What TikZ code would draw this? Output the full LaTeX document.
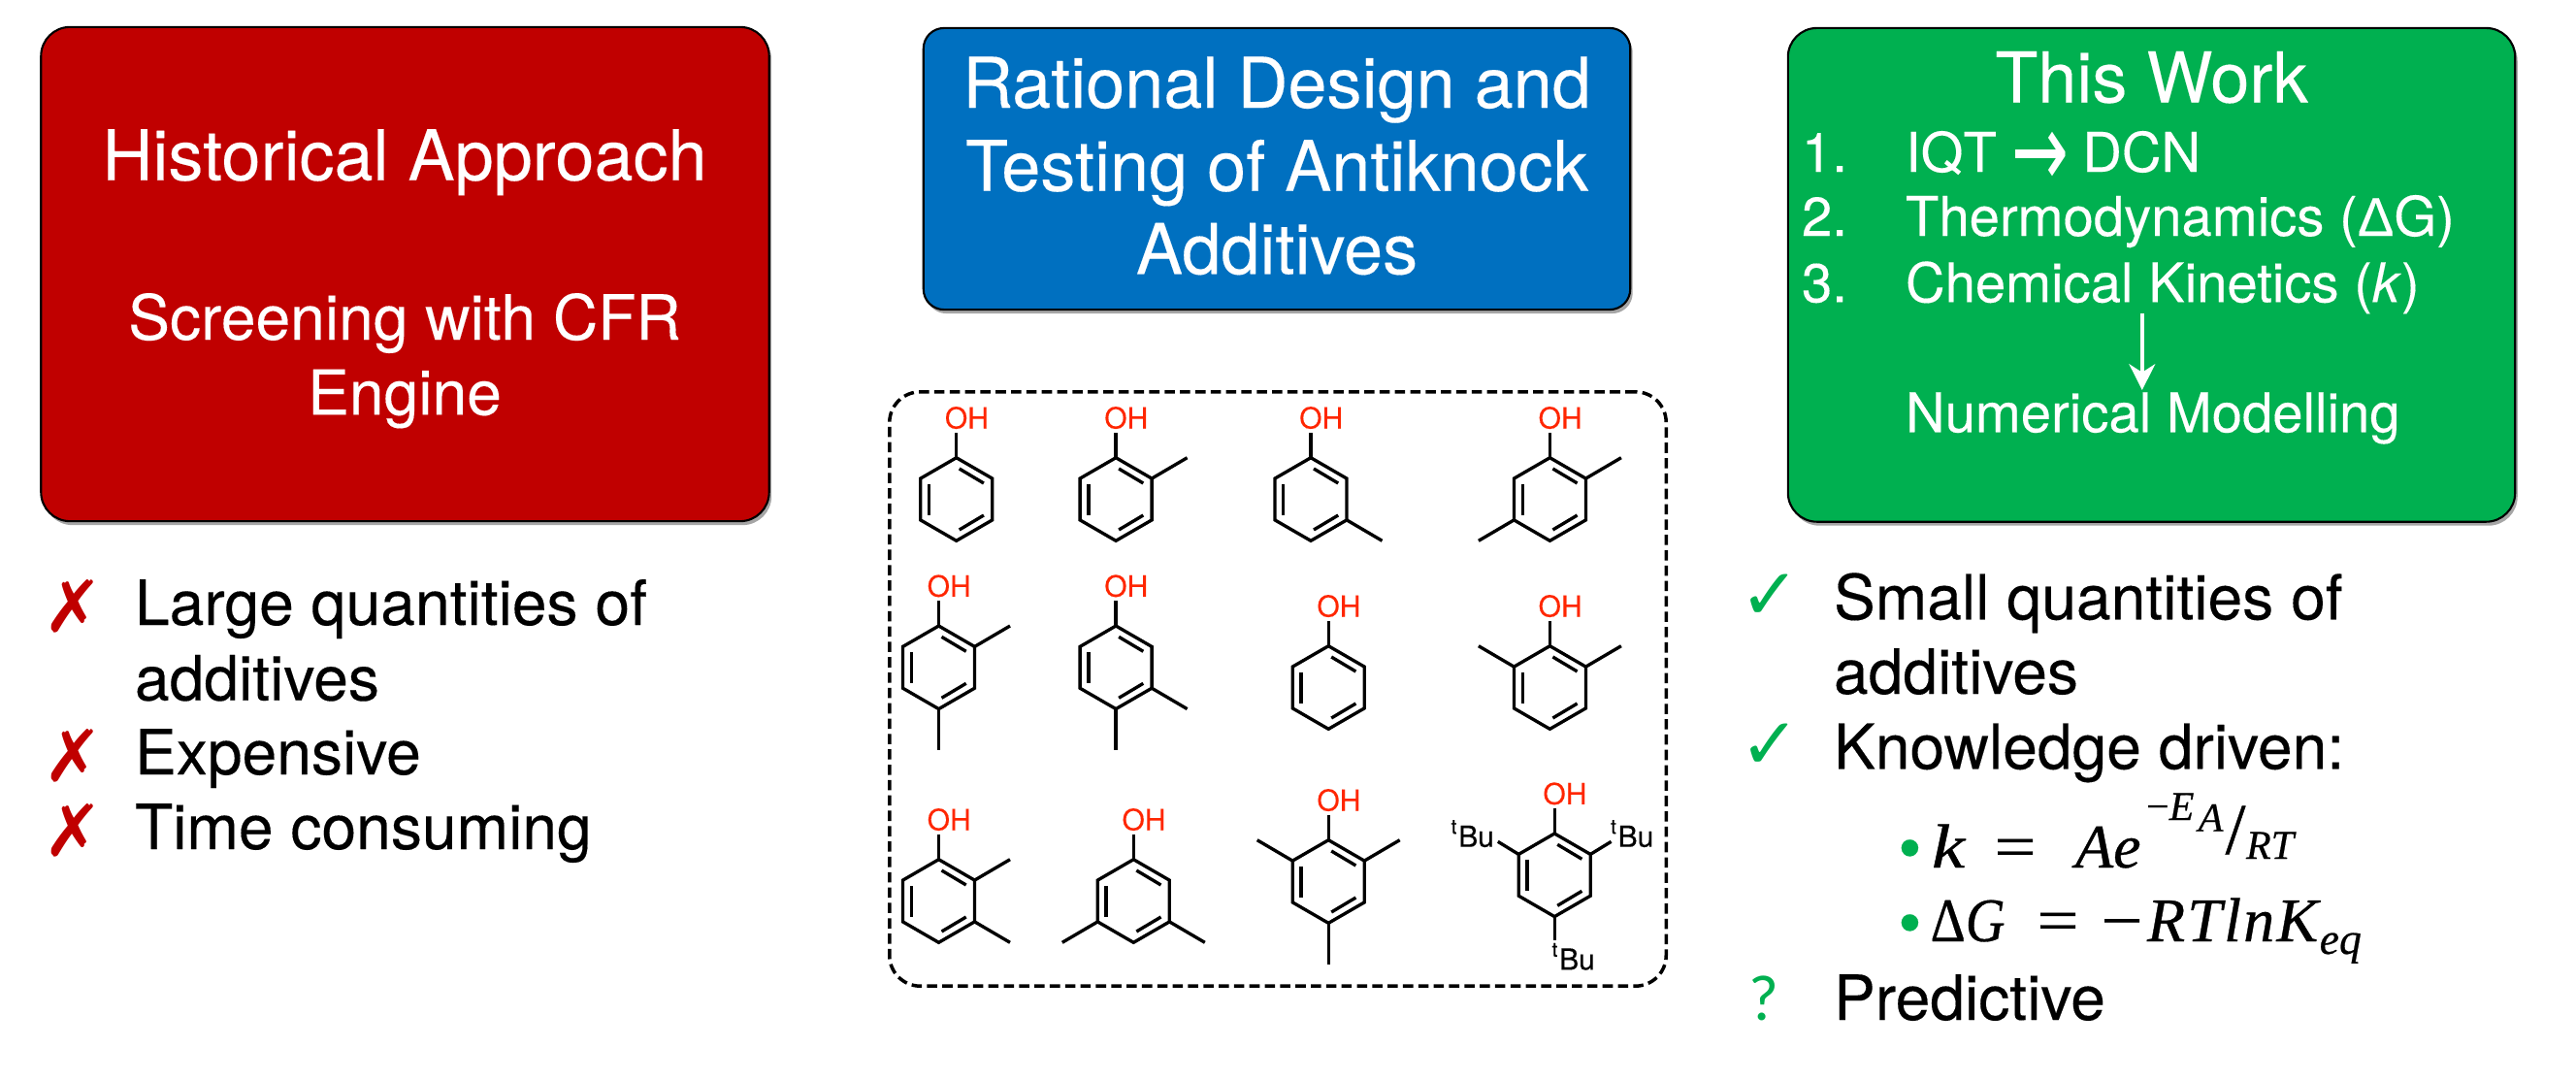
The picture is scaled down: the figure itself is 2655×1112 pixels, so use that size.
\documentclass[tikz,border=0pt]{standalone}
\usepackage{fontspec}
\usepackage{graphicx}
\usetikzlibrary{arrows.meta,shadows}
\setmainfont[FakeBold=0.2]{TeX Gyre Heros}
\newfontfamily\libs[FakeBold=0.2]{Liberation Sans}
\newfontfamily\dejav{DejaVu Sans}
\newfontfamily\carl{Carlito}
\newfontfamily\eqf[FakeBold=0.5]{Liberation Serif}
\newfontfamily\eqfls[LetterSpace=3.5,FakeBold=0.5]{Liberation Serif}
\newcommand{\fsz}[1]{\fontsize{#1}{#1}\selectfont}
\definecolor{cred}{HTML}{C00000}
\definecolor{cgreen}{HTML}{00B050}
\definecolor{cblue}{HTML}{0070C0}
\definecolor{chemred}{HTML}{FF2600}
\tikzset{
  box/.style={draw=black,line width=0.6pt,rounded corners=8.5pt,inner sep=0pt,
    drop shadow={shadow xshift=0.025cm,shadow yshift=-0.04cm,opacity=0.35,fill=black}},
  txt/.style={inner sep=0pt,outer sep=0pt,anchor=base west},
  ctr/.style={inner sep=0pt,outer sep=0pt,anchor=base},
  head/.style={ctr,text=white,font=\fsz{20.49pt}},
  sub/.style={ctr,text=white,font=\fsz{18.25pt}},
  item/.style={txt,text=white,font=\fsz{16.0pt}},
  body/.style={txt,text=black,font=\fsz{18.25pt}},
  bond/.style={line width=0.95pt,line join=miter,draw=black},
  oh/.style={txt,anchor=base,text=chemred,font=\fsz{8.54pt}},
  tbu/.style={txt,text=black,font=\fsz{8.54pt}},
  cross/.style={inner sep=0pt,outer sep=0pt,anchor=center,text=cred,font=\dejav\fsz{21pt}},
  tick/.style={inner sep=0pt,outer sep=0pt,anchor=center,text=cgreen,font=\dejav\fsz{21pt}},
  eqn/.style={txt,text=black,font=\eqf\fsz{18.2pt}},
  eqs/.style={txt,text=black,font=\eqf\fsz{11.95pt}},
}
% a benzene ring with its outer tips, as named coordinates
\newcommand{\Ring}[3]{%
  \begin{scope}[shift={(#2,#3)}]
    \coordinate (#1-v1) at (0,-42.8);
    \coordinate (#1-v2) at (37,-21.4);
    \coordinate (#1-v3) at (37,21.4);
    \coordinate (#1-v4) at (0,42.8);
    \coordinate (#1-v5) at (-37,21.4);
    \coordinate (#1-v6) at (-37,-21.4);
    \coordinate (#1-e2) at (73.5,-42.8);
    \coordinate (#1-e3) at (73.5,42.8);
    \coordinate (#1-e4) at (0,85.4);
    \coordinate (#1-e5) at (-73.5,42.8);
    \coordinate (#1-e6) at (-73.5,-42.8);
    \coordinate (#1-o) at (0,-68.5);
    \coordinate (#1-i1) at (3,-31.5);
    \coordinate (#1-i2) at (28.2,-16.5);
    \coordinate (#1-i3) at (28.2,16.5);
    \coordinate (#1-i4) at (3,31.5);
    \coordinate (#1-i5) at (-28.2,16);
    \coordinate (#1-i6) at (-28.2,-16);
  \end{scope}
  \draw[bond] (#1-v1) -- (#1-v2) -- (#1-v3) -- (#1-v4) -- (#1-v5) -- (#1-v6) -- cycle;
  \draw[bond] (#1-i1) -- (#1-i2);
  \draw[bond] (#1-i3) -- (#1-i4);
  \draw[bond] (#1-i5) -- (#1-i6);
  \draw[bond] (#1-v1) -- (#1-o);
  \node[oh] (#1-oh) at ([shift={(10.7,-4.5)}]#1-o) {OH};
}
\newcommand{\Subs}[2]{\foreach \i in {#2} {\draw[bond] (#1-v\i) -- (#1-e\i);}}
\begin{document}
\begin{tikzpicture}[x=0.01cm,y=-0.01cm]
\useasboundingbox (0,0) rectangle (2655,1112);

% ---------- boxes
\node[box,fill=cred,minimum width=7.50cm,minimum height=5.09cm] (red) at (417.5,282.5) {};
\node[box,fill=cblue,rounded corners=6pt,minimum width=7.28cm,minimum height=2.90cm] (blue) at (1316,174) {};
\node[box,fill=cgreen,minimum width=7.49cm,minimum height=5.085cm] (green) at (2217.5,283.3) {};
\node[draw=black,line width=1pt,rounded corners=9pt,dash pattern=on 3pt off 1.5pt,inner sep=0pt,
      minimum width=8.00cm,minimum height=6.12cm] (panel) at (1317,710) {};

% ---------- red box text
\node[head] (h1) at (417,185.7) {Historical Approach};
\node[sub] (h2) at (417,350) {Screening with CFR};
\node[sub] (h3) at (417,427.4) {Engine};

% ---------- blue box text
\node[head] (b1) at (1316,111) {Rational Design and};
\node[head] (b2) at (1316,196.7) {Testing of Antiknock};
\node[head] (b3) at (1316,282.3) {Additives};

% ---------- green box text
\node[head] (g0) at (2217.5,105.5) {This Work};
\node[item] (n1) at (1857,177) {1.};
\node[item] (n2) at (1857,243) {2.};
\node[item] (n3) at (1857,311.4) {3.};
\node[item] (t1) at (1964,177) {IQT \raisebox{-4.5pt}{\scalebox{1.25}[1.9]{\dejav→}}\hspace{-0.5pt} DCN};
\node[item] (t2) at (1964,243) {Thermodynamics ({\libs Δ}G)};
\node[item] (t3) at (1964,311.4) {Chemical Kinetics (\textit{k})};
\node[item] (t4) at (1964,445.3) {Numerical Modelling};
\coordinate (arrA) at (2207.8,323);
\coordinate (arrB) at (2207.8,402);
\draw[white,line width=1.1pt,-{Stealth[length=7.6pt,width=7.6pt,inset=2.4pt]}] (arrA) -- (arrB);

% ---------- left list
\node[cross] (c1) at (75,625) {✗};
\node[cross] (c2) at (75,779) {✗};
\node[cross] (c3) at (75,856) {✗};
\node[body] (l1) at (139,644) {Large quantities of};
\node[body] (l2) at (139,721.7) {additives};
\node[body] (l3) at (139,798) {Expensive};
\node[body] (l4) at (139,875) {Time consuming};

% ---------- right list
\node[tick] (k1) at (1824,615) {✓};
\node[tick] (k2) at (1824,769) {✓};
\node[txt,text=cgreen,font=\carl\fsz{19pt}] (k3) at (1802,1051) {?};
\node[body] (r1) at (1890,638.3) {Small quantities of};
\node[body] (r2) at (1890,715) {additives};
\node[body] (r3) at (1890,792.3) {Knowledge driven:};
\node[body] (r4) at (1890,1051) {Predictive};

% ---------- equations
\node[ctr,text=cgreen,font=\libs\fsz{18.12pt}] (d1) at (1968.4,895) {•};
\node[ctr,text=cgreen,font=\libs\fsz{18.12pt}] (d2) at (1968.4,972) {•};
\node[eqn] (e1) at (1991,894) {\scalebox{1.2}[1]{\itshape k}};
\node[eqn,anchor=base] (e2) at (2077,894) {\scalebox{1.2}[1]{=}};
\node[eqn] (e3) at (2139,894) {\itshape Ae};
\node[eqs] (e4) at (2212,845) {−\itshape E};
\node[eqs] (e5) at (2265.7,856.7) {\itshape A};
\node[ctr,font=\eqf\fsz{21.3pt}] (e6) at (2304,880) {/};
\node[eqs] (e7) at (2315,885) {\itshape RT};
\node[eqn] (f1) at (1989.6,970) {\scalebox{.88}[1]{Δ\itshape G}};
\node[eqn,anchor=base] (f2) at (2121,970) {\scalebox{1.2}[1]{=}};
\node[eqn,anchor=base] (f3) at (2187,970) {\scalebox{1.2}[1]{−}};
\node[eqn,font=\eqfls\fsz{18.2pt}] (f4) at (2213,970) {\itshape RTlnK};
\node[eqs,font=\eqf\fsz{13pt}] (f5) at (2390.7,983) {\itshape eq};

% ---------- molecules
\Ring{m1}{985.7}{514.5}
\Ring{m2}{1150.1}{514.5} \Subs{m2}{2}
\Ring{m3}{1351}{514.5} \Subs{m3}{3}
\Ring{m4}{1597.4}{514.5} \Subs{m4}{2,5}
\Ring{m5}{967.5}{687.8} \Subs{m5}{2,4}
\Ring{m6}{1150.1}{687.8} \Subs{m6}{3,4}
\Ring{m7}{1369.2}{708.5}
\Ring{m8}{1597.4}{708.5} \Subs{m8}{2,6}
\Ring{m9}{967.5}{928.5} \Subs{m9}{2,3}
\Ring{m10}{1168.3}{928.5} \Subs{m10}{3,5}
\Ring{m11}{1369.2}{908.5} \Subs{m11}{2,4,6}
\Ring{m12}{1602.2}{901.8}
\coordinate (tL) at (1543.8,867.3);
\coordinate (tR) at (1660.6,867.3);
\coordinate (tB) at (1602.2,968.7);
\draw[bond] (m12-v6) -- (tL);
\draw[bond] (m12-v2) -- (tR);
\draw[bond] (m12-v4) -- (tB);
\node[tbu] (bu1) at (1495.6,872.7) {\textsuperscript{t}Bu};
\node[tbu] (bu2) at (1660,872.7) {\textsuperscript{t}Bu};
\node[tbu] (bu3) at (1599.5,999.3) {\textsuperscript{t}Bu};
\end{tikzpicture}
\end{document}
